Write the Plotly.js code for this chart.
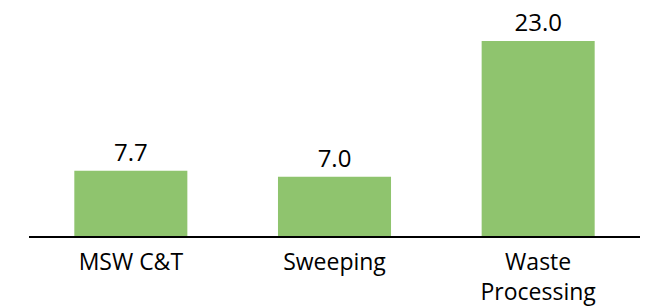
<!DOCTYPE html>
<html>
<head>
<meta charset="utf-8">
<script src="https://cdn.plot.ly/plotly-3.0.1.min.js"></script>
<style>html,body{margin:0;padding:0;background:#fff;}#chart{width:649px;height:307px;}</style>
</head>
<body>
<div id="chart"></div>
<script>
const categories = ["MSW C&T", "Sweeping", "Waste<br>Processing"];
const values = [7.7, 7.0, 23.0];
const valueLabels = values.map(v => v.toFixed(1));

const trace = {
  type: "bar",
  x: categories,
  y: values,
  text: valueLabels,
  textposition: "outside",
  cliponaxis: false,
  textfont: {family: "Open Sans, sans-serif", size: 24, color: "#000"},
  marker: {color: "#8fc46e"},
  hoverinfo: "none"
};

const layout = {
  width: 649,
  height: 307,
  margin: {l: 29, r: 9, t: 0, b: 71},
  paper_bgcolor: "#fff",
  plot_bgcolor: "#fff",
  showlegend: false,
  bargap: 0.445,
  font: {family: "Open Sans, sans-serif", size: 23, color: "#000"},
  xaxis: {
    type: "category",
    showline: true,
    linecolor: "#000",
    linewidth: 1.5,
    ticks: "",
    ticklabelstandoff: 5,
    showgrid: false,
    zeroline: false,
    tickfont: {family: "Open Sans, sans-serif", size: 23, color: "#000"}
  },
  yaxis: {
    range: [0, 27.84],
    visible: false,
    showgrid: false,
    zeroline: false
  }
};

Plotly.newPlot("chart", [trace], layout, {displayModeBar: false, staticPlot: true});
</script>
</body>
</html>
